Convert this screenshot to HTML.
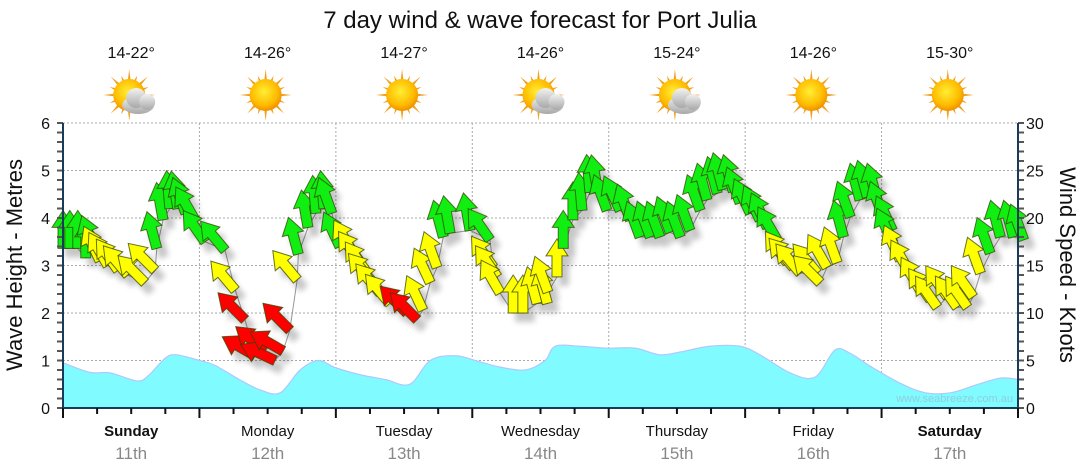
<!DOCTYPE html>
<html><head><meta charset="utf-8"><style>
html,body{margin:0;padding:0;background:#fff;}
svg{display:block;font-family:"Liberation Sans",sans-serif;}
</style></head><body>
<svg id="chart" width="1080" height="475" viewBox="0 0 1080 475">
<defs>
<filter id="sh" x="-50%" y="-50%" width="200%" height="200%"><feGaussianBlur stdDeviation="3"/></filter>
<radialGradient id="sunG" cx="45%" cy="40%" r="60%"><stop offset="0" stop-color="#ffee33"/><stop offset="0.7" stop-color="#ffbb00"/><stop offset="1" stop-color="#f09000"/></radialGradient>
<linearGradient id="cloudG" x1="0" y1="0" x2="0" y2="1"><stop offset="0" stop-color="#f2f2f2"/><stop offset="1" stop-color="#a8a8a8"/></linearGradient>
</defs>
<text x="540" y="28" text-anchor="middle" font-size="24" fill="#111">7 day wind &amp; wave forecast for Port Julia</text>
<g id="grid"></g>
<g id="wave"></g>
<g id="wind"></g>
<g id="axes"></g>
<g id="icons"></g>
<text x="1013" y="402" text-anchor="end" font-size="11" fill="#8ecfe0">www.seabreeze.com.au</text>
<text transform="translate(22,265) rotate(-90)" text-anchor="middle" font-size="22" fill="#111">Wave Height - Metres</text>
<text transform="translate(1060,265) rotate(90)" text-anchor="middle" font-size="22" fill="#111">Wind Speed - Knots</text>
</svg>
<script>
const days = ["Sunday","Monday","Tuesday","Wednesday","Thursday","Friday","Saturday"];
const dates = ["11th","12th","13th","14th","15th","16th","17th"];
const boldDays = [true,false,false,false,false,false,true];
const temps = ["14-22°","14-26°","14-27°","14-26°","15-24°","14-26°","15-30°"];
const cloudy = [true,false,false,true,true,false,false];
const waveTicks = [0,1,2,3,4,5,6];
const windTicks = [0,5,10,15,20,25,30];
const waveHours = [0,4.75,8.3,13,15,18,20,24,26.7,31,34.7,38.2,41.7,44.9,47.9,52.3,56.7,61,64.6,69,73.4,76.9,81.3,84.8,86.6,91,95.4,100.6,105,108.6,113.8,119.1,122.6,127.9,132.3,135.8,138.5,142,147.3,151.7,156.1,160.5,164.9,168];
const waveMetres = [0.95,0.75,0.74,0.57,0.68,1.05,1.12,1.0,0.9,0.6,0.38,0.32,0.8,1.0,0.85,0.7,0.6,0.5,1.0,1.1,0.97,0.86,0.8,1.0,1.3,1.3,1.26,1.26,1.12,1.18,1.3,1.3,1.12,0.74,0.65,1.22,1.15,0.88,0.52,0.32,0.32,0.48,0.63,0.6];
const windHours = [0,1.2,2.6,4,5.6,6.5,7.9,9.7,11.4,14.4,16.2,16.5,17.6,18.8,20.2,21.6,23.2,25,28.5,30.3,32,33.8,35.5,37.3,38.7,39.9,41.2,41.4,43.1,44.5,45.9,47.3,48.7,51,52.3,53.5,54.5,55.8,57.5,60.5,62.3,63.3,64.6,65.8,66.9,68.1,71.6,75.1,75.7,76.4,76.9,79.2,80.9,83.4,85.2,85.3,86.9,88,89.7,91.3,92.7,94.1,95.7,98,99.8,101.5,103.3,105,106.8,108.6,110.3,112.1,113.3,115.1,116.1,117.9,119.1,120.9,122.6,123.9,125.6,127.4,128.5,129.7,132.7,133.2,134.4,136.2,137.3,138.5,140.2,141.5,143.2,144.3,145.9,146,147.3,149,150.8,152.6,153.8,155.6,157.3,159.1,160.1,161.4,163.1,164.9,167.2,169];
const windKnots = [16.8,16.8,16.8,15.8,16.5,15.5,15,14.5,14,13.2,14.5,16.8,19.8,21,21,20.5,19.8,17.5,16.6,12.4,9.3,5.5,6,5,6,8.2,13.5,16.2,19,20.5,21,20.5,17,16.3,15.3,14.2,13.2,12.1,11,10,9.3,10.3,13.2,14.8,18,18.4,18.7,17.7,14.8,13.8,12.1,10,10,11,11,12.2,13.8,16.8,19.8,20.8,22.7,22.7,20.8,20.8,19.8,18,18,18,18.5,18,18.7,20.8,21.9,22.6,23,22.8,21.6,20.5,19.8,19,17.7,15.3,14.8,14.2,14.2,13.2,14.8,15.3,18,20.1,21.9,22.2,21.9,20.1,18.7,17.4,15.6,14.2,12.4,11.4,10.6,11.7,10.6,10.6,11.7,14.2,16.3,18,18,17.7,14.2];
const windDir = [0,0,0,0,-20,-25,-30,-35,-40,-45,-45,-15,-10,-5,-10,-20,-30,-35,-40,-40,-45,-60,-50,-65,-60,-45,-40,-15,-10,-5,-5,-20,-25,-30,-35,-35,-40,-40,-40,-45,-45,-25,-25,-20,-15,-10,-10,-35,-35,-35,-30,0,0,-15,-15,-20,0,0,0,-5,-5,-10,-20,-25,-20,-20,-20,-20,-20,-20,-20,-20,-15,-15,-15,-15,-20,-25,-25,-25,-30,-35,-40,-40,-40,-45,-30,-20,-15,-20,-15,-15,-15,-20,-25,-25,-25,-30,-30,-35,-35,-35,-35,-35,-35,-20,-20,-15,-15,-20,-20];
const windCat = ["g","g","g","g","g","y","y","y","y","y","y","g","g","g","g","g","g","g","g","y","r","r","r","r","r","r","y","g","g","g","g","g","g","y","y","y","y","y","y","r","r","y","y","y","g","g","g","g","y","y","y","y","y","y","y","y","y","g","g","g","g","g","g","g","g","g","g","g","g","g","g","g","g","g","g","g","g","g","g","g","g","y","y","y","y","y","y","y","g","g","g","g","g","g","g","g","y","y","y","y","y","y","y","y","y","y","g","g","g","g","y"];

const NS="http://www.w3.org/2000/svg";
const X0=63,X1=1018,Y0=408,Y1=123;
const xH=h=>X0+h*(X1-X0)/168;
const yM=m=>Y0-m*(Y0-Y1)/6;
const yK=k=>Y0-k*(Y0-Y1)/30;
function mk(tag,attrs,parent){const e=document.createElementNS(NS,tag);for(const k in attrs)e.setAttribute(k,attrs[k]);parent.appendChild(e);return e;}
const grid=document.getElementById('grid'),axes=document.getElementById('axes'),wave=document.getElementById('wave'),wind=document.getElementById('wind'),icons=document.getElementById('icons');

waveTicks.forEach(t=>{
  if(t>0){const l=mk('line',{x1:X0,x2:X1,y1:yM(t),y2:yM(t),stroke:'#aaa','stroke-dasharray':'2,2'},grid);
  
  }
  const tx=mk('text',{x:50,y:yM(t)+6,'text-anchor':'end','font-size':16,fill:'#111'},axes);tx.textContent=t;
  
  
});
for(let i=0;i<=30;i++){const y=Y0-i*(Y0-Y1)/30;
  mk('line',{x1:X0-6,x2:X0,y1:y,y2:y,stroke:'#555','stroke-width':2},axes);
  mk('line',{x1:X1,x2:X1+6,y1:y,y2:y,stroke:'#555','stroke-width':2},axes);}
windTicks.forEach(t=>{
  const tx=mk('text',{x:1026,y:yK(t)+6,'font-size':16,fill:'#111'},axes);tx.textContent=t;
  
  
});
for(let d=1;d<7;d++){const l=mk('line',{x1:xH(d*24),x2:xH(d*24),y1:Y1,y2:Y0,stroke:'#aaa','stroke-dasharray':'2,2'},grid);
  
  }

// wave area
const wpts=waveHours.map((h,i)=>[xH(h),yM(waveMetres[i])]);
let d='M'+wpts[0][0]+','+wpts[0][1];
for(let i=0;i<wpts.length-1;i++){const p0=wpts[Math.max(0,i-1)],p1=wpts[i],p2=wpts[i+1],p3=wpts[Math.min(wpts.length-1,i+2)];
  const c1=[p1[0]+(p2[0]-p0[0])/6,p1[1]+(p2[1]-p0[1])/6],c2=[p2[0]-(p3[0]-p1[0])/6,p2[1]-(p3[1]-p1[1])/6];
  d+=`C${c1[0]},${c1[1]} ${c2[0]},${c2[1]} ${p2[0]},${p2[1]}`;}
const wa=mk('path',{d:d+`L${X1},${Y0}L${X0},${Y0}Z`,fill:'#80fbff'},wave);


mk('path',{d:d,fill:'none',stroke:'#b0c8ff','stroke-width':1.2},wave);

// axes lines
mk('line',{x1:X0,x2:X0,y1:Y1,y2:Y0+1,stroke:'#1a3a5a','stroke-width':2},axes);
mk('line',{x1:X1,x2:X1,y1:Y1,y2:Y0+1,stroke:'#1a3a5a','stroke-width':2},axes);
mk('line',{x1:X0,x2:X1,y1:Y0,y2:Y0,stroke:'#1a3a5a','stroke-width':2},axes);
for(let i=0;i<=28;i++){const x=xH(i*6),major=i%4===0;
  mk('line',{x1:x,x2:x,y1:Y0,y2:Y0+(major?10:6),stroke:'#111','stroke-width':2},axes);}
days.forEach((n,i)=>{const cx=xH(i*24+12);
  const t=mk('text',{x:cx,y:436,'text-anchor':'middle','font-size':15,fill:'#111','font-weight':boldDays[i]?'bold':'normal'},axes);t.textContent=n;
  
  
  const t2=mk('text',{x:cx,y:459,'text-anchor':'middle','font-size':17,fill:'#888'},axes);t2.textContent=dates[i];
  
  
  const t3=mk('text',{x:cx,y:58,'text-anchor':'middle','font-size':16,fill:'#111'},icons);t3.textContent=temps[i];
  
  
  const g=mk('g',{transform:`translate(${cx-2},95)`},icons);
  
  
  for(let r=0;r<16;r++){const a=r*Math.PI/8,L=r%2?21:26;
    mk('polygon',{points:`${Math.cos(a-0.12)*13},${Math.sin(a-0.12)*13} ${Math.cos(a)*L},${Math.sin(a)*L} ${Math.cos(a+0.12)*13},${Math.sin(a+0.12)*13}`,fill:'#f0a020'},g);}
  mk('circle',{r:16,fill:'url(#sunG)'},g);
  if(cloudy[i]){const c=mk('g',{transform:'translate(9,6)'},g);
    mk('ellipse',{cx:0,cy:4,rx:16,ry:9,fill:'url(#cloudG)'},c);
    mk('circle',{cx:-2,cy:-3,r:10,fill:'url(#cloudG)'},c);
    mk('circle',{cx:9,cy:1,r:8,fill:'url(#cloudG)'},c);}
});

// wind
const lp=windHours.map((h,i)=>xH(h)+','+yK(windKnots[i])).join(' ');
mk('polyline',{points:lp,fill:'none',stroke:'#999','stroke-width':1},wind);
const cols={g:'#11ee11',y:'#ffff00',r:'#ff0000'};
const arrowPts="-5,0 5,0 5,-21 11,-21 0,-38 -11,-21 -5,-21";
const shadow=mk('g',{filter:'url(#sh)',opacity:0.22},wind);
windHours.forEach((h,i)=>{mk('polygon',{points:arrowPts,fill:'#000',transform:`translate(${xH(h)+7},${yK(windKnots[i])+9}) rotate(${windDir[i]})`},shadow);});
windHours.forEach((h,i)=>{
  const p=mk('polygon',{points:arrowPts,fill:cols[windCat[i]],stroke:'#334400','stroke-opacity':0.75,'stroke-width':1,transform:`translate(${xH(h)},${yK(windKnots[i])}) rotate(${windDir[i]})`},wind);
  
  
});
</script>
</body></html>
